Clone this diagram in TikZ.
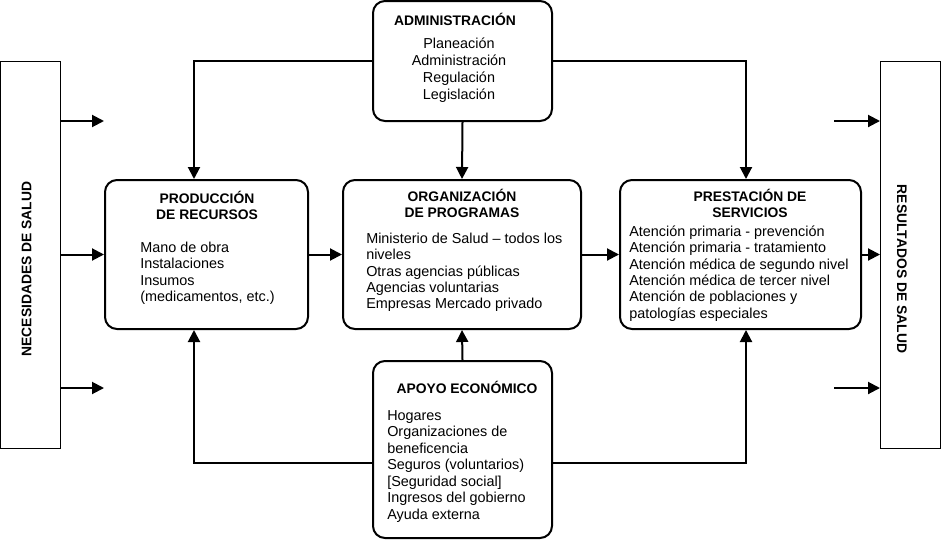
\documentclass[tikz,border=0pt]{standalone}
\usepackage{fontspec}
\setmainfont{Liberation Sans}
\usetikzlibrary{arrows.meta,calc}
\newcommand\firstline{\rule{0pt}{12pt}}
\begin{document}
\begin{tikzpicture}[x=0.75pt,y=-0.75pt,
 rbox/.style={draw, line width=1.5pt, rounded corners=9pt, inner sep=0pt},
 sbox/.style={draw, line width=0.75pt, inner sep=0pt},
 arr/.style={line width=1.5pt, -{Triangle[length=9pt,width=9pt]}},
 hdr/.style={font=\bfseries\fontsize{10.4}{12}\selectfont, align=center, inner sep=0pt, anchor=north},
 body/.style={font=\fontsize{10.8}{12.3}\selectfont, align=left, inner sep=0pt, anchor=north west},
 cbody/.style={font=\fontsize{10.8}{12.75}\selectfont, align=center, inner sep=0pt, anchor=north},
 vlab/.style={font=\bfseries\fontsize{10.4}{12}\selectfont, inner sep=0pt}]
\useasboundingbox (0,0) rectangle (941,539);

% boxes
\node[sbox, minimum width=45pt, minimum height=290.25pt] (nec) at (30.5,254.5) {};
\node[sbox, minimum width=45pt, minimum height=290.25pt] (res) at (910.5,254.5) {};
\node[rbox, minimum width=152.25pt, minimum height=111.75pt] (prod) at (206.5,254.5) {};
\node[rbox, minimum width=178.5pt, minimum height=111.75pt] (org) at (462,254.5) {};
\node[rbox, minimum width=180.75pt, minimum height=111.75pt] (prest) at (740.5,254.5) {};
\node[rbox, minimum width=134.25pt, minimum height=90pt] (admin) at (462.5,61) {};
\node[rbox, minimum width=134.25pt, minimum height=132.75pt] (apoyo) at (462.5,449.5) {};

% vertical labels
\node[vlab, rotate=90] (necT) at (26.5,269) {NECESIDADES DE SALUD};
\node[vlab, rotate=-90] (resT) at (902,269) {RESULTADOS DE SALUD};

% headers
\node[hdr] (prodH) at (207,187) {\firstline PRODUCCIÓN\\DE RECURSOS};
\node[hdr] (orgH) at (462,185) {\firstline ORGANIZACIÓN\\DE PROGRAMAS};
\node[hdr] (prestH) at (750,185) {\firstline PRESTACIÓN DE\\SERVICIOS};
\node[hdr] (adminH) at (455,9) {\firstline ADMINISTRACIÓN};
\node[hdr] (apoyoH) at (467,377) {\firstline APOYO ECONÓMICO};

% bodies
\node[body] (prodB) at (140,236) {\firstline Mano de obra\\Instalaciones\\Insumos\\(medicamentos, etc.)};
\node[body] (orgB) at (366,227) {\firstline Ministerio de Salud – todos los\\niveles\\Otras agencias públicas\\Agencias voluntarias\\Empresas Mercado privado};
\node[body] (prestB) at (629,220) {\firstline Atención primaria - prevención\\Atención primaria - tratamiento\\Atención médica de segundo nivel\\Atención médica de tercer nivel\\Atención de poblaciones y\\patologías especiales};
\node[cbody] (adminB) at (459,32) {\firstline Planeación\\Administración\\Regulación\\Legislación};
\node[body, font=\fontsize{10.8}{12.375}\selectfont] (apoyoB) at (387,404) {\firstline Hogares\\Organizaciones de\\beneficencia\\Seguros (voluntarios)\\{[Seguridad social]}\\Ingresos del gobierno\\Ayuda externa};

% connectors
\draw[arr] (admin.west) -| ($(prod.north)+(-12.5,0)$);
\draw[arr] (admin.south) -- (org.north);
\draw[arr] (admin.east) -| ($(prest.north)+(5.5,0)$);
\draw[arr] ($(apoyo.west)+(0,13.5)$) -| ($(prod.south)+(-12.5,0)$);
\draw[arr] (apoyo.north) -- (org.south);
\draw[arr] ($(apoyo.east)+(0,13.5)$) -| ($(prest.south)+(5.5,0)$);
\draw[arr] (nec.east) -- (prod.west);
\draw[arr] (prod.east) -- (org.west);
\draw[arr] (org.east) -- (prest.west);
\draw[arr] (prest.east) -- (res.west);
\draw[arr] ($(nec.east)+(0,-133.5)$) -- ++(43,0);
\draw[arr] ($(nec.east)+(0,133.5)$) -- ++(43,0);
\draw[arr] ($(res.west)+(-46,-133.5)$) -- ($(res.west)+(0,-133.5)$);
\draw[arr] ($(res.west)+(-46,133.5)$) -- ($(res.west)+(0,133.5)$);
\end{tikzpicture}
\end{document}
